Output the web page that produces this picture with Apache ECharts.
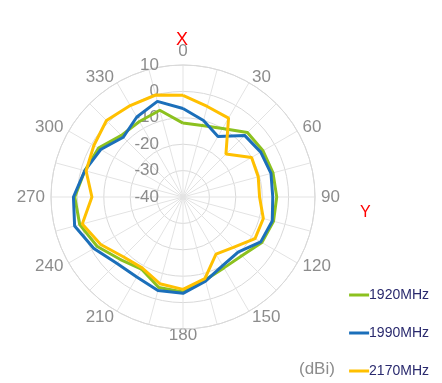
<!DOCTYPE html>
<html>
<head>
<meta charset="utf-8">
<script src="https://cdn.jsdelivr.net/npm/echarts@6/dist/echarts.min.js"></script>
<style>
html,body{margin:0;padding:0;background:#fff;}
#c{width:442px;height:383px;}
</style>
</head>
<body>
<div id="c"></div>
<script>
const angles = [0,15,30,45,60,75,90,105,120,135,150,165,180,195,210,225,240,255,270,285,300,315,330,345];
const s1920 = [-12,-12,-10,-5.5,-5,-4.7,-4.5,-4.5,-5.5,-8.5,-9,-7.5,-4,-4.5,-8.5,-6.5,-2.5,0.5,1,-1.5,-3,-7,-7,-6];
const s1990 = [-6.5,-10,-13.5,-7,-6,-5.5,-6,-5,-6,-10.5,-10,-7,-3.5,-3.3,-5,-4.5,-1,2.5,1.5,-1.5,-4,-8,-5,-2.5];
const s2170 = [-1.5,-4.5,-5.5,-17,-10,-10.5,-11,-8.5,-8.5,-13,-15,-8,-5,-6,-9,-8,-4,-0.5,-5.5,-2,-1,1,0,0];
const seriesNames = ['1920MHz','1990MHz','2170MHz'];
const seriesColors = ['#8cc11f','#1b6fba','#ffc000'];
const angleTickLabels = [0,30,60,90,120,150,180,210,240,270,300,330];
const radiusTicks = [-40,-30,-20,-10,0,10];

function toPolar(vals){
  const d = vals.map((v,i)=>[v, angles[i]]);
  d.push([vals[0], angles[0]]);
  return d;
}
const FONT = 'Liberation Sans, Arial';
const chart = echarts.init(document.getElementById('c'));
const allSeries = [s1920, s1990, s2170];
chart.setOption({
  animation:false,
  polar:{center:[183,197], radius:132},
  angleAxis:{
    type:'value', min:0, max:360, interval:15, startAngle:90, clockwise:true,
    axisLine:{show:true, lineStyle:{color:'#d9d9d9', width:1}},
    axisTick:{show:false},
    splitLine:{show:true, lineStyle:{color:'#e3e3e3', width:1}},
    axisLabel:{
      formatter:function(v){
        if (v === 0) return '{z|0}';
        return angleTickLabels.indexOf(v)>=0 ? String(v) : '';
      },
      color:'#8c8c8c', fontSize:17, fontFamily:FONT, margin:6, lineHeight:1,
      rich:{z:{color:'#8c8c8c', fontSize:17, fontFamily:FONT, lineHeight:1, padding:[0,0,14,0]}}
    }
  },
  radiusAxis:{
    type:'value', min:-40, max:10, interval:10,
    axisLine:{show:false}, axisTick:{show:false},
    splitLine:{show:true, lineStyle:{color:'#d9d9d9', width:1}},
    axisLabel:{color:'#8c8c8c', fontSize:17, fontFamily:FONT, margin:24,
      formatter:function(v){ return radiusTicks.indexOf(v)>=0 ? String(v) : ''; }}
  },
  legend:{
    orient:'vertical', right:8, bottom:0, itemGap:24,
    icon:'rect', itemWidth:20, itemHeight:3,
    textStyle:{color:'#2a2a6e', fontSize:14, fontFamily:FONT, padding:[0,0,0,-5]},
    data:seriesNames
  },
  graphic:[
    {type:'text', left:176, top:31, style:{text:'X', fill:'#ff0000', fontSize:18, fontFamily:FONT}},
    {type:'text', left:360, top:205, style:{text:'Y', fill:'#ff0000', fontSize:16, fontFamily:FONT}},
    {type:'text', left:299, top:361, style:{text:'(dBi)', fill:'#8c8c8c', fontSize:17, fontFamily:FONT}}
  ],
  series: allSeries.map((vals,i)=>({
    name:seriesNames[i], type:'line', coordinateSystem:'polar',
    data:toPolar(vals), symbol:'none',
    lineStyle:{color:seriesColors[i], width:3}, itemStyle:{color:seriesColors[i]}
  }))
});
</script>
</body>
</html>
